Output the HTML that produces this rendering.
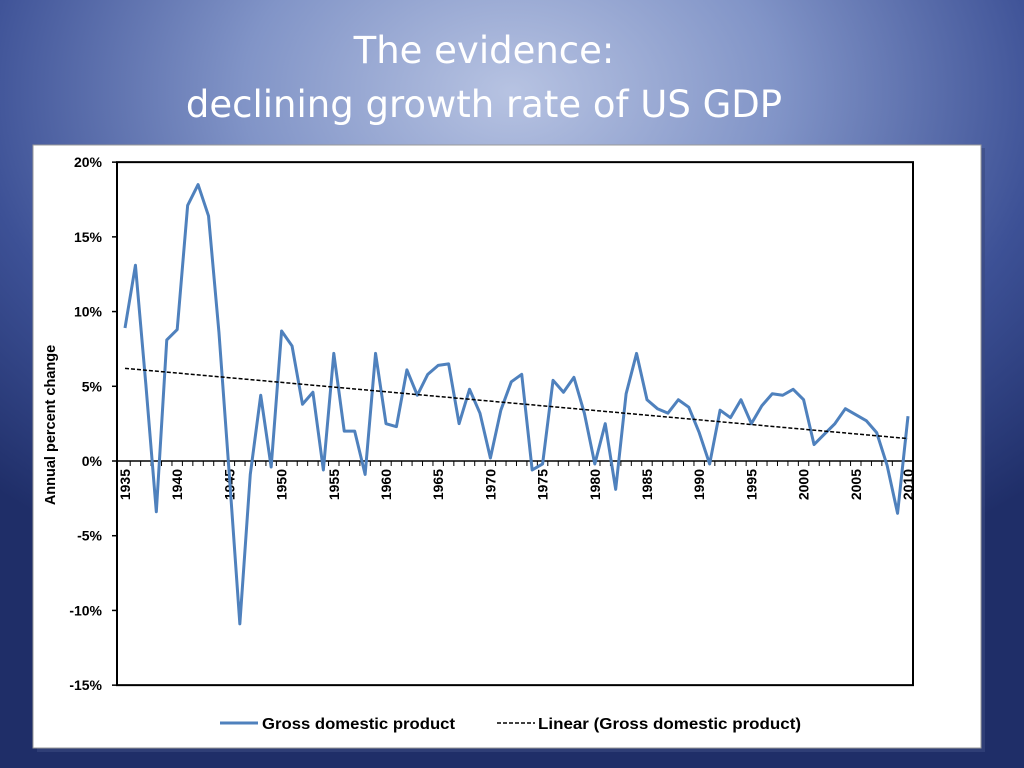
<!DOCTYPE html>
<html><head><meta charset="utf-8"><style>
body{margin:0;width:1024px;height:768px;overflow:hidden;font-family:"Liberation Sans",sans-serif;
background:radial-gradient(ellipse 75% 70% at 50% 12%,#b7c3e2 0%,#8194c7 35%,#3d5196 70%,#1f2e68 100%);}
.title{position:absolute;left:-28px;width:1024px;text-align:center;color:#fff;font-family:"DejaVu Sans",sans-serif;font-size:37px;line-height:54px;top:24px;}
</style></head><body>
<div class="title">The evidence:<br>declining growth rate of US GDP</div>
<svg width="1024" height="768" style="position:absolute;left:0;top:0">
<rect x="37" y="148" width="948" height="604" fill="#3a4a80" opacity="0.6"/>
<rect x="33" y="145" width="948" height="603" fill="#fff" stroke="#999"/>
<g id="g"></g>
</svg>
<script>
const years=[];for(let y=1935;y<=2010;y++)years.push(y);
const gdp=[8.9,13.1,5.1,-3.4,8.1,8.8,17.1,18.5,16.4,8.6,-1.0,-10.9,-0.9,4.4,-0.4,8.7,7.7,3.8,4.6,-0.6,7.2,2.0,2.0,-0.9,7.2,2.5,2.3,6.1,4.4,5.8,6.4,6.5,2.5,4.8,3.2,0.2,3.4,5.3,5.8,-0.6,-0.2,5.4,4.6,5.6,3.2,-0.2,2.5,-1.9,4.5,7.2,4.1,3.5,3.2,4.1,3.6,1.9,-0.2,3.4,2.9,4.1,2.5,3.7,4.5,4.4,4.8,4.1,1.1,1.8,2.5,3.5,3.1,2.7,1.9,-0.3,-3.5,3.0];
const yTicks=[20,15,10,5,0,-5,-10,-15];
const xTicks=[1935,1940,1945,1950,1955,1960,1965,1970,1975,1980,1985,1990,1995,2000,2005,2010];
const trend=[6.2,1.5];
const X=y=>125+(y-1935)*(908-125)/75, Y=v=>461-v*(523/35);
const g=document.getElementById('g'),NS='http://www.w3.org/2000/svg';
function mk(t,a,txt){const e=document.createElementNS(NS,t);for(const k in a)e.setAttribute(k,a[k]);if(txt!=null)e.textContent=txt;g.appendChild(e);return e;}
let e=mk('rect',{x:117,y:Y(20),width:796,height:Y(-15)-Y(20),fill:'none',stroke:'#000','stroke-width':2});

yTicks.forEach(v=>{e=mk('line',{x1:112,x2:117,y1:Y(v),y2:Y(v),stroke:'#000','stroke-width':1.5});
e=mk('text',{x:102,y:Y(v)+5,'text-anchor':'end','font-size':14,'font-weight':'bold'},v+'%');
});
e=mk('line',{x1:117,x2:913,y1:Y(0),y2:Y(0),stroke:'#000','stroke-width':1.5});

years.forEach(y=>mk('line',{x1:X(y)+5.2,x2:X(y)+5.2,y1:Y(0),y2:Y(0)+5,stroke:'#000'}));
xTicks.forEach(y=>{e=mk('text',{transform:`translate(${X(y)+5},${Y(0)+8}) rotate(-90)`,'text-anchor':'end','font-size':14,'font-weight':'bold'},y);
});
e=mk('text',{transform:'translate(55,425) rotate(-90)','text-anchor':'middle','font-size':14.5,'font-weight':'bold'},'Annual percent change');

e=mk('polyline',{points:gdp.map((v,i)=>X(years[i])+','+Y(v)).join(' '),fill:'none',stroke:'#4f81bd','stroke-width':3,'stroke-linejoin':'round'});

e=mk('line',{x1:X(1935),y1:Y(trend[0]),x2:X(2010),y2:Y(trend[1]),stroke:'#000','stroke-width':1.5,'stroke-dasharray':'4,2'});

mk('line',{x1:220,x2:258,y1:723,y2:723,stroke:'#4f81bd','stroke-width':3});
e=mk('text',{x:262,y:729,'font-size':16,'font-weight':'bold',textLength:193,lengthAdjust:'spacingAndGlyphs'},'Gross domestic product');

mk('line',{x1:497,x2:535,y1:723,y2:723,stroke:'#000','stroke-width':1.5,'stroke-dasharray':'4,2'});
e=mk('text',{x:538,y:729,'font-size':16,'font-weight':'bold',textLength:263,lengthAdjust:'spacingAndGlyphs'},'Linear (Gross domestic product)');

</script>
</body></html>
